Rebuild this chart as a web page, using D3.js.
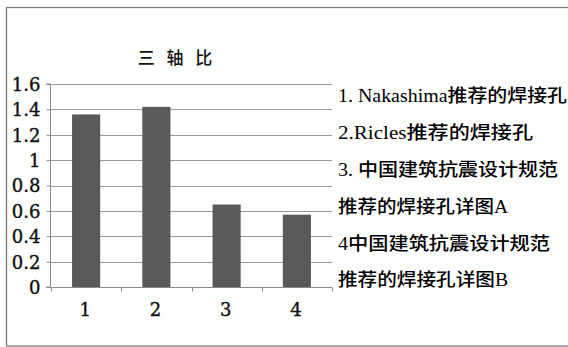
<!DOCTYPE html>
<html>
<head>
<meta charset="utf-8">
<script src="https://cdn.jsdelivr.net/npm/d3@7"></script>
<style>
  html, body { margin: 0; padding: 0; background: #fff; }
  svg { display: block; }
</style>
</head>
<body>
<svg id="chart" width="568" height="347"></svg>
<script>
// Triaxiality ratio for four weld access hole details
const categories = ["1", "2", "3", "4"];
const values = [1.36, 1.42, 0.65, 0.57];
const yTicks = [0, 0.2, 0.4, 0.6, 0.8, 1, 1.2, 1.4, 1.6];
const yTickLabels = ["0", "0.2", "0.4", "0.6", "0.8", "1", "1.2", "1.4", "1.6"];
const chartTitle = "三 轴 比";
const legendLines = [
  "1. Nakashima推荐的焊接孔",
  "2.Ricles推荐的焊接孔",
  "3. 中国建筑抗震设计规范",
  "推荐的焊接孔详图A",
  "4中国建筑抗震设计规范",
  "推荐的焊接孔详图B"
];
// rendered widths of the legend lines
const legendWidths = [229, 195, 220, 170, 212, 170];

const svg = d3.select("#chart");
const plot = { left: 51, right: 332, top: 84, bottom: 287 };

// outer frame
svg.append("rect")
  .attr("x", 6.5).attr("y", 7.5)
  .attr("width", 620).attr("height", 338.5)
  .attr("fill", "none").attr("stroke", "#7a7a7a").attr("stroke-width", 1.3);

const x = d3.scaleBand().domain(categories).range([plot.left, plot.right]).padding(0);
const y = d3.scaleLinear().domain([0, 1.6]).range([plot.bottom, plot.top]);

// horizontal gridlines
svg.append("g")
  .selectAll("line")
  .data(yTicks.filter(d => d > 0))
  .join("line")
  .attr("x1", plot.left).attr("x2", plot.right)
  .attr("y1", d => Math.round(y(d)) + 0.5).attr("y2", d => Math.round(y(d)) + 0.5)
  .attr("stroke", "#9a9a9a").attr("stroke-width", 1);

// bars
const barW = x.bandwidth() * 0.4;
svg.append("g")
  .selectAll("rect")
  .data(values)
  .join("rect")
  .attr("x", (d, i) => x(categories[i]) + x.bandwidth() / 2 - barW / 2)
  .attr("y", d => y(d))
  .attr("width", barW)
  .attr("height", d => y(0) - y(d))
  .attr("fill", "#595959");

// y axis
const yAxis = d3.axisLeft(y)
  .tickValues(yTicks)
  .tickSize(4)
  .tickPadding(6)
  .tickFormat((d, i) => yTickLabels[i]);
const gy = svg.append("g")
  .attr("transform", `translate(${plot.left - 0.5},0)`)
  .call(yAxis);
gy.select(".domain").attr("stroke", "#8a8a8a").attr("d", `M-4,${plot.top}H0V${plot.bottom}H-4`);
gy.selectAll(".tick line").attr("stroke", "#8a8a8a");
gy.selectAll(".tick text")
  .attr("font-family", "'DejaVu Serif', serif")
  .attr("font-size", 18)
  .attr("fill", "#111")
  .attr("stroke", "#111")
  .attr("stroke-width", 0.4)
  .attr("dy", "0.36em");

// x axis: ticks at category boundaries
const gx = svg.append("g")
  .attr("transform", `translate(0,${plot.bottom + 0.5})`);
gx.append("line")
  .attr("x1", plot.left).attr("x2", plot.right)
  .attr("stroke", "#8a8a8a");
const boundaries = categories.map(c => x(c)).concat([plot.right]);
gx.selectAll("line.tk")
  .data(boundaries)
  .join("line")
  .attr("class", "tk")
  .attr("x1", d => Math.round(d) + 0.5).attr("x2", d => Math.round(d) + 0.5)
  .attr("y1", 0).attr("y2", 4)
  .attr("stroke", "#8a8a8a");
gx.selectAll("text")
  .data(categories)
  .join("text")
  .attr("x", d => x(d) + x.bandwidth() / 2 - 1)
  .attr("y", 28)
  .attr("text-anchor", "middle")
  .attr("font-family", "'DejaVu Serif', serif")
  .attr("font-size", 18)
  .attr("fill", "#111")
  .attr("stroke", "#111")
  .attr("stroke-width", 0.4)
  .text(d => d);

// title
svg.append("text")
  .attr("x", 177).attr("y", 64)
  .attr("text-anchor", "middle")
  .attr("font-family", "'Noto Sans CJK SC', sans-serif")
  .attr("font-size", 17)
  .attr("font-weight", 500)
  .attr("letter-spacing", 4)
  .attr("fill", "#111")
  .text(chartTitle);

// legend text
svg.append("g")
  .selectAll("text")
  .data(legendLines)
  .join("text")
  .attr("x", 338)
  .attr("y", (d, i) => 96 + i * 36.8)
  .attr("dy", "0.36em")
  .attr("font-family", "'Liberation Serif', 'Noto Sans CJK SC', serif")
  .attr("font-size", 18)
  .attr("font-weight", 500)
  .attr("fill", "#000")
  .attr("textLength", (d, i) => legendWidths[i])
  .attr("lengthAdjust", "spacingAndGlyphs")
  .text(d => d);
</script>
</body>
</html>
